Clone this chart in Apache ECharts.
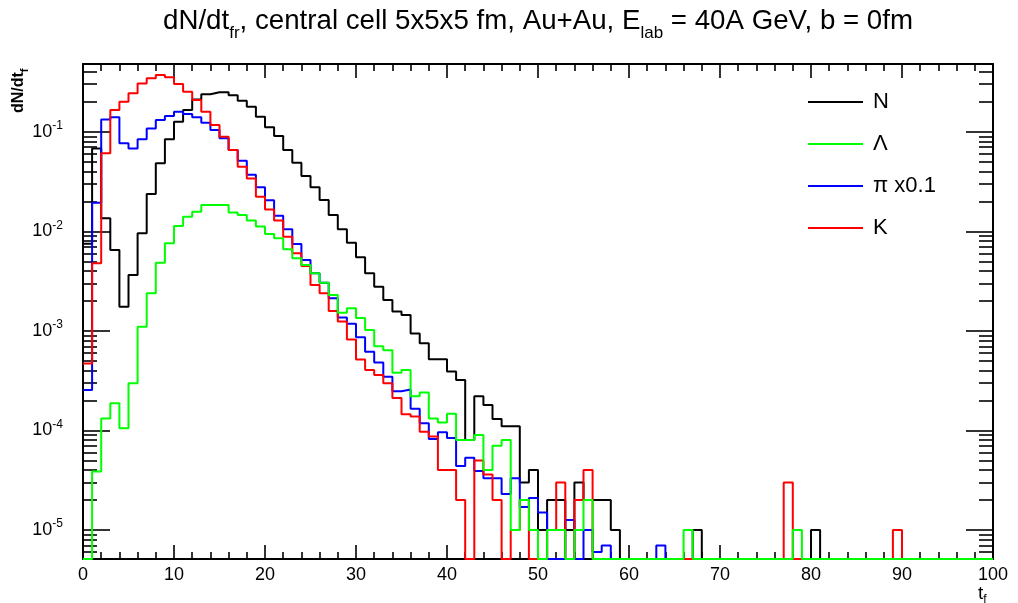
<!DOCTYPE html>
<html>
<head>
<meta charset="utf-8">
<script src="https://cdn.jsdelivr.net/npm/echarts@6.0.0/dist/echarts.min.js"></script>
<style>
html,body{margin:0;padding:0;background:#ffffff;}
#chart{width:1018px;height:603px;}
</style>
</head>
<body>
<div id="chart"></div>
<script>
// ---- data: dN/dt per 1 fm/c bin, t = 0..100 ----
const binStart = Array.from({length: 100}, (_, i) => i);   // left edge of each bin
const xTickLabels = [0, 10, 20, 30, 40, 50, 60, 70, 80, 90, 100];
const yDecadeExponents = [-5, -4, -3, -2, -1];

const seriesNames = ['N', 'Λ', 'π x0.1', 'K'];

const N = [
  0.0075, 0.068, 0.0135, 0.0065, 0.00175, 0.00364, 0.00955, 0.0237, 0.0482, 0.084,
  0.126, 0.165, 0.211, 0.238, 0.249, 0.249, 0.233, 0.205, 0.178, 0.1415,
  0.1107, 0.0906, 0.0655, 0.0489, 0.0359, 0.0277, 0.0206, 0.0146, 0.0105, 0.00769,
  0.00548, 0.00379, 0.00278, 0.00204, 0.00156, 0.00144, 0.00094, 0.00075, 0.00052, 0.00052,
  0.00039, 0.00032, 0.00008, 0.00022, 0.00018, 0.00013, 0.00011, 0.00011, 0.00003, 0.00004,
  0.00001, 0.00002, 0.00002, 0.00001, 0.00003, 0.00002, 0.00002, 0.00002, 0.00001, 0,
  0, 0, 0, 0, 0, 0, 0, 0.00001, 0, 0,
  0, 0, 0, 0, 0, 0, 0, 0, 0, 0,
  0.00001, 0, 0, 0, 0, 0, 0, 0, 0, 0,
  0, 0, 0, 0, 0, 0, 0, 0, 0, 0
];

const Lambda = [
  0, 0.0000386, 0.000132, 0.000187, 0.000105, 0.000298, 0.0011, 0.00239, 0.00484, 0.0076,
  0.0113, 0.014, 0.0157, 0.0184, 0.0184, 0.0184, 0.0154, 0.0146, 0.0128, 0.0112,
  0.0094, 0.0085, 0.0066, 0.00536, 0.00459, 0.00379, 0.00305, 0.00229, 0.00152, 0.00169,
  0.00135, 0.00102, 0.0007, 0.00064, 0.00038, 0.000405, 0.00022, 0.00024, 0.000132, 0.00012,
  0.000147, 0.00008, 0.00008, 0.00009, 0.00004, 0.00007, 0.00008, 0.00001, 0.00002, 0.00001,
  0, 0.00001, 0.00001, 0, 0.00001, 0.00002, 0, 0, 0, 0,
  0, 0, 0, 0, 0, 0, 0.00001, 0, 0, 0,
  0, 0, 0, 0, 0, 0, 0, 0, 0.00001, 0,
  0, 0, 0, 0, 0, 0, 0, 0, 0, 0,
  0, 0, 0, 0, 0, 0, 0, 0, 0, 0
];

const PiScaled = [
  0.000255, 0.0194, 0.133, 0.14, 0.0764, 0.068, 0.084, 0.108, 0.131, 0.144,
  0.159, 0.151, 0.14, 0.123, 0.104, 0.086, 0.0655, 0.0512, 0.037, 0.0277,
  0.0205, 0.0143, 0.0105, 0.00746, 0.00516, 0.00379, 0.00305, 0.00212, 0.00136, 0.00118,
  0.00086, 0.000618, 0.00048, 0.000345, 0.000248, 0.000257, 0.000165, 0.000118, 0.000082, 0.000096,
  0.000084, 0.000044, 0.000053, 0.000039, 0.000033, 0.000033, 0.000023, 0.000033, 0.000017, 0.000021,
  0.000015, 0, 0, 0.0000126, 0, 0.00001, 0.000006, 0.000007, 0, 0,
  0, 0, 0, 0.000007, 0, 0, 0, 0, 0, 0,
  0, 0, 0, 0, 0, 0, 0, 0, 0, 0,
  0, 0, 0, 0, 0, 0, 0, 0, 0, 0,
  0, 0, 0, 0, 0, 0, 0, 0, 0, 0
];

const K = [
  0.00047, 0.00477, 0.0607, 0.165, 0.2, 0.243, 0.306, 0.344, 0.371, 0.352,
  0.301, 0.252, 0.208, 0.159, 0.117, 0.089, 0.0655, 0.0445, 0.034, 0.0222,
  0.0166, 0.0128, 0.00883, 0.00601, 0.00449, 0.00289, 0.00238, 0.00158, 0.00124, 0.00082,
  0.000515, 0.000405, 0.00036, 0.000298, 0.000212, 0.000145, 0.000138, 0.000097, 0.000087, 0.00004,
  0.00004, 0.00002, 0, 0.00005, 0.000036, 0.00002, 0, 0.00001, 0.00002, 0,
  0, 0.00001, 0.00003, 0, 0.00002, 0.00004, 0, 0, 0, 0,
  0, 0, 0, 0, 0, 0, 0, 0, 0, 0,
  0, 0, 0, 0, 0, 0, 0, 0.00003, 0, 0,
  0, 0, 0, 0, 0, 0, 0, 0, 0, 0.00001,
  0, 0, 0, 0, 0, 0, 0, 0, 0, 0
];

// ---- axis ranges ----
const X_MIN = 0, X_MAX = 100;
const Y_MIN = 5.11e-6, Y_MAX = 0.479;

// ---- build ----
const FONT = '"Liberation Sans", Arial, Helvetica, sans-serif';
const LMIN = Math.log10(Y_MIN), LMAX = Math.log10(Y_MAX);

function histPoints(vals) {
  // empty bins drawn along the lower frame, as ROOT does on a log scale
  const pts = vals.map((v, i) => [binStart[i], v > 0 ? v : Y_MIN]);
  pts.push([binStart[binStart.length - 1] + 1, pts[pts.length - 1][1]]);
  return pts;
}

const minorLogTicks = [];
for (let e = -7; e <= 0; e++) {
  for (let k = 2; k <= 9; k++) {
    const v = k * Math.pow(10, e);
    if (v >= Y_MIN && v <= Y_MAX) minorLogTicks.push(Math.log10(v));
  }
}

const lineCol = '#000000';
const frameW = 2;
const tickW = 1.6;

function xAxisCfg(pos, labels) {
  return {
    type: 'value', position: pos, min: X_MIN, max: X_MAX, interval: 10,
    axisLine: {show: true, onZero: false, lineStyle: {color: lineCol, width: frameW}},
    axisTick: {show: true, inside: true, length: 14, lineStyle: {color: lineCol, width: tickW}},
    minorTick: {show: true, splitNumber: 5, length: 7, lineStyle: {color: lineCol, width: tickW}},
    axisLabel: {show: labels, margin: 7, fontSize: 18, color: '#000', fontFamily: FONT,
      formatter: v => (xTickLabels.indexOf(v) >= 0 ? String(v) : '')},
    splitLine: {show: false}, minorSplitLine: {show: false}
  };
}

function yTickAxis(pos, values, len, showLine, labels) {
  return {
    type: 'value', position: pos, min: LMIN, max: LMAX,
    axisLine: {show: showLine, onZero: false, lineStyle: {color: lineCol, width: frameW}},
    axisTick: {show: true, inside: true, length: len, customValues: values, lineStyle: {color: lineCol, width: tickW}},
    axisLabel: labels ? {
      show: true, customValues: yDecadeExponents, margin: 20, color: '#000', fontFamily: FONT,
      formatter: v => '{b|10}{s|' + Math.round(v) + '}',
      rich: {
        b: {fontSize: 18, lineHeight: 24, fontFamily: FONT, color: '#000'},
        s: {fontSize: 12, lineHeight: 14, verticalAlign: 'top', fontFamily: FONT, color: '#000'}
      }
    } : {show: false},
    splitLine: {show: false}
  };
}

const colors = {N: '#000000', 'Λ': '#00ff00', 'π x0.1': '#0000ff', K: '#ff0000'};
const seriesData = {N: N, 'Λ': Lambda, 'π x0.1': PiScaled, K: K};
const drawOrder = ['N', 'π x0.1', 'K', 'Λ'];

const option = {
  animation: false,
  backgroundColor: '#ffffff',
  title: {
    text: 'dN/dt{sub|fr}, central cell 5x5x5 fm, Au+Au, E{sub|lab} = 40A GeV, b = 0fm',
    left: 163, top: 0, padding: 0,
    textStyle: {
      fontSize: 27.7, fontWeight: 'normal', color: '#000', fontFamily: FONT, lineHeight: 42,
      rich: {sub: {fontSize: 17, lineHeight: 17, verticalAlign: 'bottom', color: '#000', fontFamily: FONT}}
    }
  },
  legend: {
    orient: 'vertical', left: 808, top: 91, padding: 0,
    itemWidth: 55, itemHeight: 2, itemGap: 20, icon: 'rect',
    selectedMode: false,
    data: seriesNames,
    textStyle: {fontSize: 22, lineHeight: 22, color: '#000', fontFamily: FONT, padding: [0, 0, 0, 5]}
  },
  grid: {left: 83, right: 25, top: 64, bottom: 44, containLabel: false, outerBoundsMode: 'none'},
  xAxis: [xAxisCfg('bottom', true), xAxisCfg('top', false)],
  yAxis: [
    {type: 'log', logBase: 10, min: Y_MIN, max: Y_MAX, show: false, splitLine: {show: false}},
    yTickAxis('left', yDecadeExponents, 27, true, true),
    yTickAxis('left', minorLogTicks, 14, false, false),
    yTickAxis('right', yDecadeExponents, 27, true, false),
    yTickAxis('right', minorLogTicks, 14, false, false)
  ],
  graphic: [
    {
      type: 'text', x: 19, y: 113, rotation: Math.PI / 2, silent: true,
      style: {
        text: '{m|dN/dt}{s|f}', align: 'left', verticalAlign: 'middle',
        rich: {
          m: {fontSize: 16, fontWeight: 'bold', fontFamily: FONT, fill: '#000', lineHeight: 22},
          s: {fontSize: 11, fontWeight: 'bold', fontFamily: FONT, fill: '#000', lineHeight: 10, verticalAlign: 'bottom'}
        }
      }
    },
    {
      type: 'text', x: 978, y: 582, silent: true,
      style: {
        text: '{m|t}{s|f}', align: 'left', verticalAlign: 'top',
        rich: {
          m: {fontSize: 19, fontFamily: FONT, fill: '#000', lineHeight: 24},
          s: {fontSize: 12, fontFamily: FONT, fill: '#000', lineHeight: 12, verticalAlign: 'bottom'}
        }
      }
    }
  ],
  series: drawOrder.map(name => ({
    name: name,
    type: 'line',
    step: 'end',
    xAxisIndex: 0,
    yAxisIndex: 0,
    symbol: 'none',
    showSymbol: false,
    clip: true,
    color: colors[name],
    lineStyle: {color: colors[name], width: 2},
    data: histPoints(seriesData[name])
  }))
};

const chart = echarts.init(document.getElementById('chart'), null, {renderer: 'canvas'});
chart.setOption(option);
</script>
</body>
</html>
